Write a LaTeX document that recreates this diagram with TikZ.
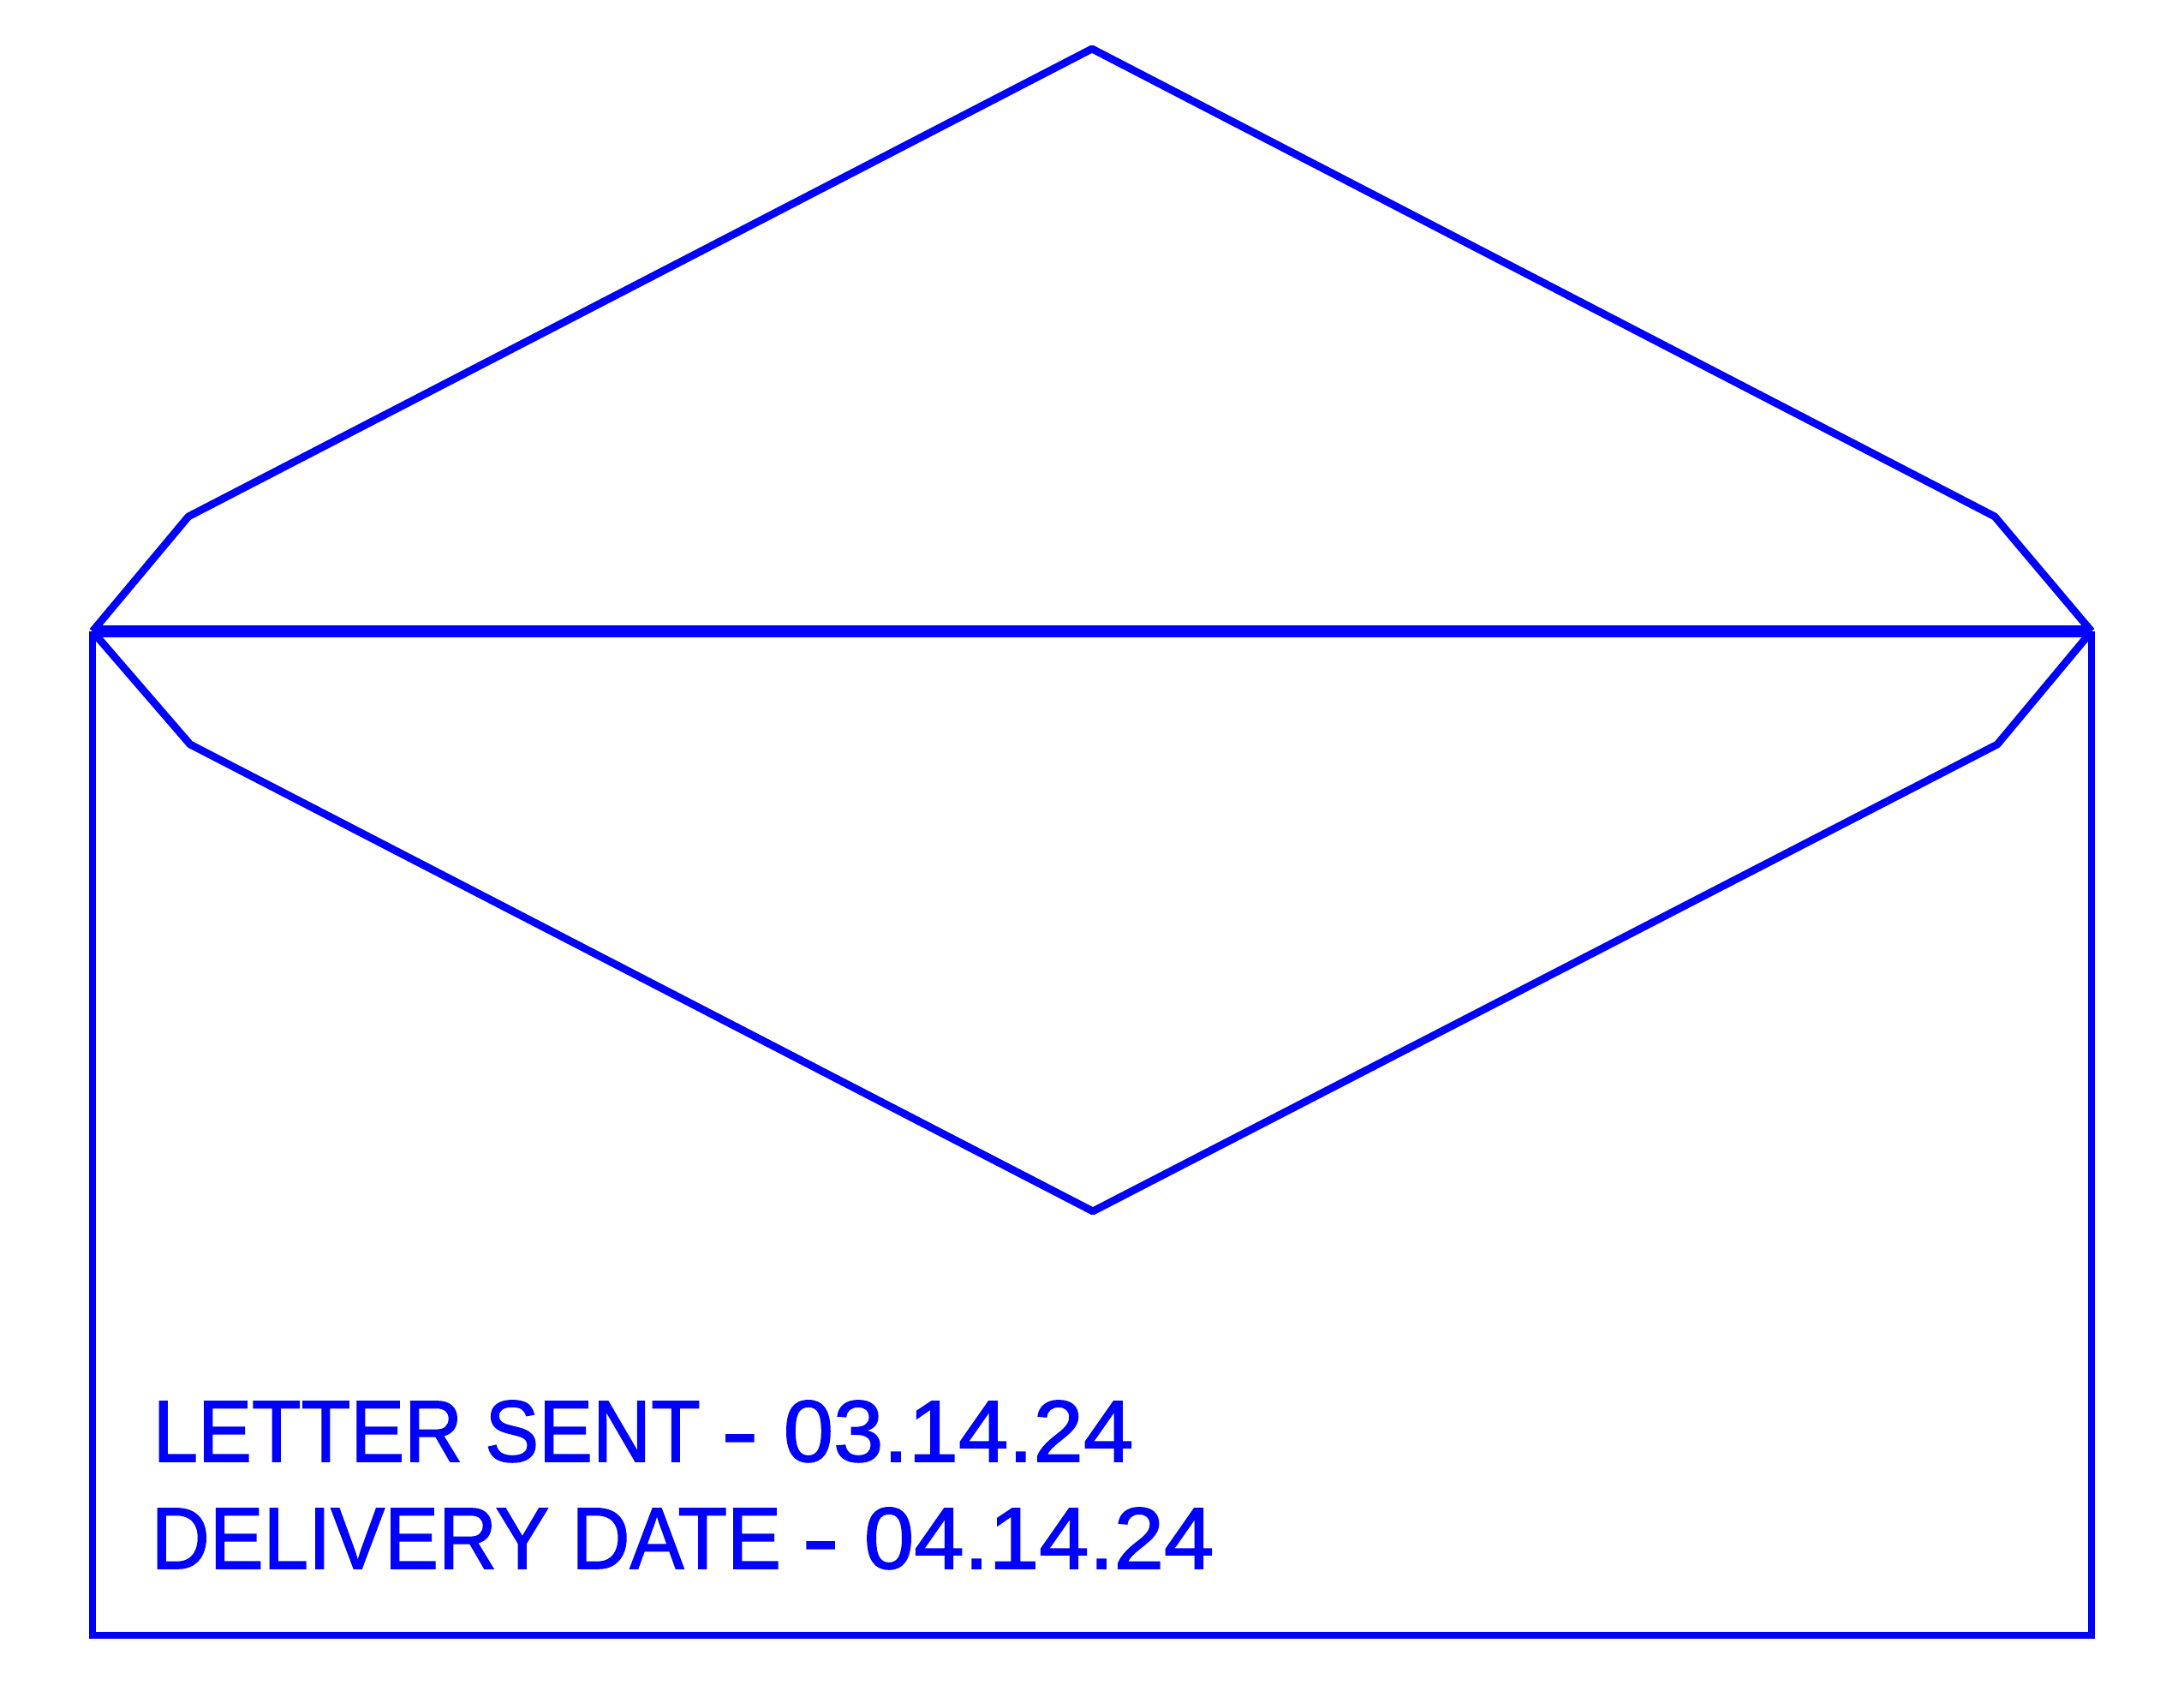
\documentclass[tikz,border=0pt]{standalone}
\usepackage{graphicx}
\usepackage{fontspec}
\setmainfont{Liberation Sans}[FakeBold=1.5]
\definecolor{inkblue}{RGB}{0,0,255}
\tikzset{edge/.style={draw=inkblue,line width=2.5pt},flap/.style={edge,line join=round},fold/.style={draw=inkblue,line width=3.8pt},
stamp/.style={text=inkblue,anchor=base west,inner sep=0pt,font=\fontsize{29}{29}\selectfont}}
\newcommand{\Stamp}[2]{\scalebox{.925}[1]{#1}\hspace{7pt}\scalebox{1.27}[1]{-}\hspace{8.3pt}\scalebox{1.03}[1]{#2}}

\begin{document}
\begin{tikzpicture}[x=1cm,y=1cm]
\useasboundingbox (0,0) rectangle (25.5,19.66);
\coordinate (TL) at (1.08,12.29);\coordinate (TR) at (24.42,12.29);
\coordinate (BL) at (1.08,.57);\coordinate (BR) at (24.42,.57);
\draw[edge] (TL)--(BL)--(BR)--(TR);
\draw[flap] (TL)--(2.2,13.63)--(12.75,19.09)--(23.29,13.63)--(TR);
\draw[flap] (TL)--(2.22,10.97)--(12.76,5.52)--(23.32,10.97)--(TR);
\draw[fold] (TL)--(TR);
\node[stamp] (sent) at (1.78,2.6){\Stamp{LETTER SENT}{03.14.24}};
\node[stamp] (delivery) at (1.76,1.35){\Stamp{DELIVERY DATE}{04.14.24}};
\end{tikzpicture}
\end{document}
